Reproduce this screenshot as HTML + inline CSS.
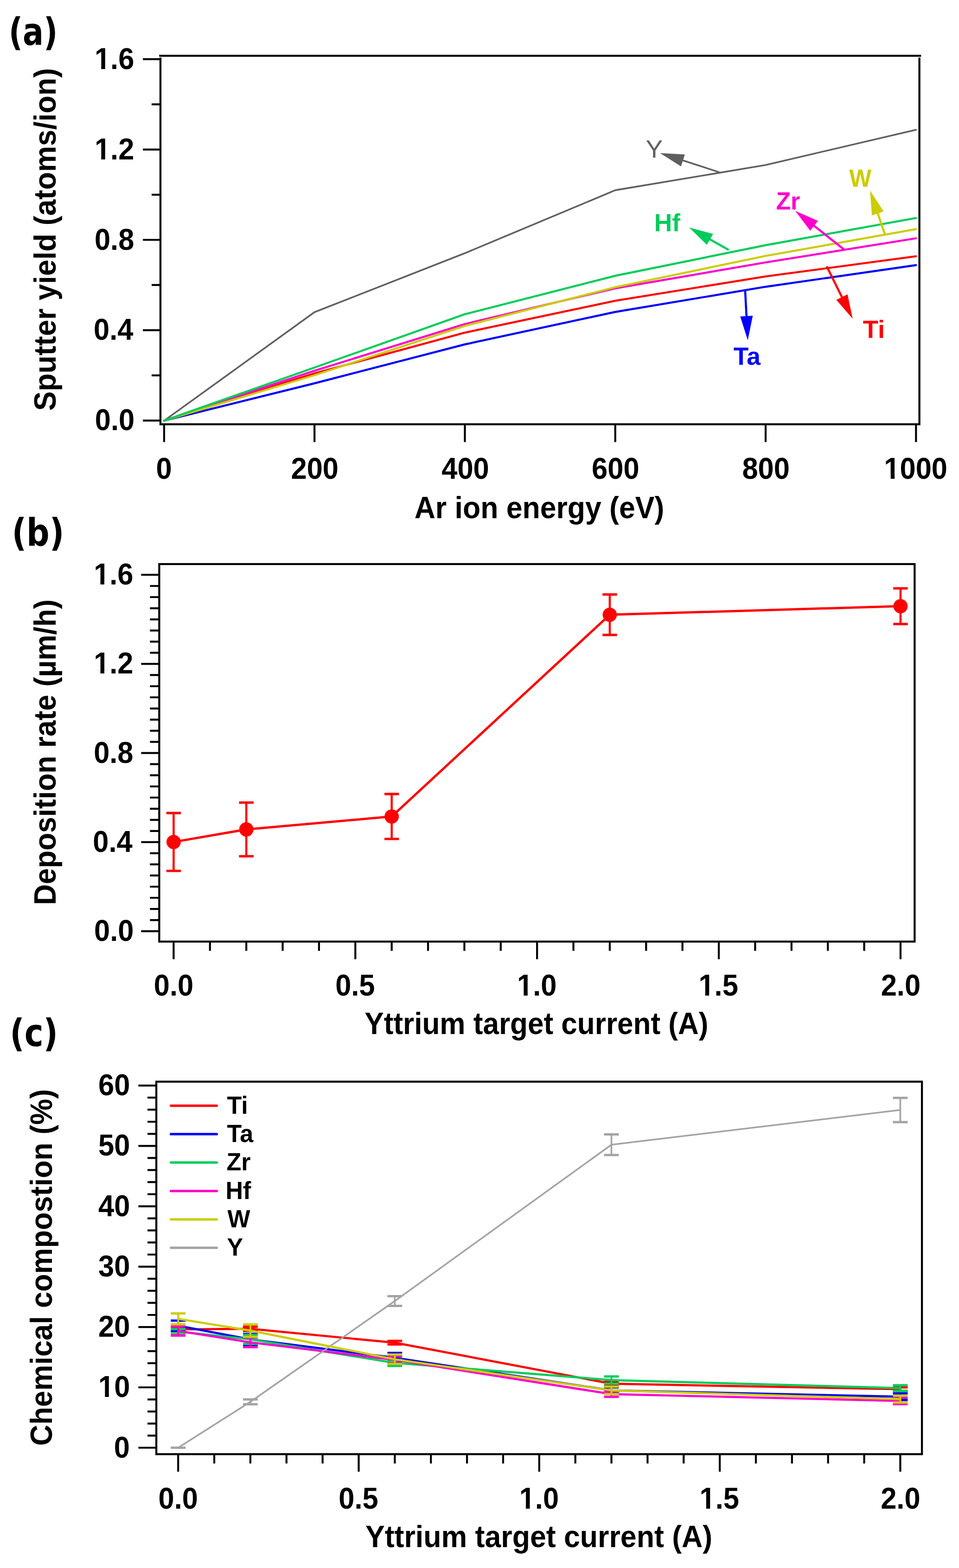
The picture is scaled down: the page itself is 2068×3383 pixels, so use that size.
<!DOCTYPE html>
<html><head><meta charset="utf-8"><title>Figure</title>
<style>html,body{margin:0;padding:0;background:#fff;}svg{display:block;}</style>
</head><body>
<svg width="2068" height="3383" viewBox="0 0 2068 3383">
<rect width="2068" height="3383" fill="#fff"/>
<path d="M343.25 120.3H1986.25M346 124.3V917.45M1982.6 124.3V917.45M343.85 915.3H1984.75" fill="none" stroke="#000" stroke-width="4.3"/>
<path d="M308.2 907.3H346M308.2 712.4H346M308.2 517.5H346M308.2 322.6H346M308.2 127.7H346M327 809.85H346M327 614.95H346M327 420.05H346M327 225.15H346" stroke="#000" stroke-width="4.2" fill="none"/>
<path d="M353.9 915.3V953.8M678.18 915.3V953.8M1002.46 915.3V953.8M1326.74 915.3V953.8M1651.02 915.3V953.8M1975.3 915.3V953.8" stroke="#000" stroke-width="4.2" fill="none"/>
<polyline points="353.9,907.6 678.18,673.5 1002.46,546.3 1326.74,410.4 1651.02,356 1975.3,280" fill="none" stroke="#5f5f5f" stroke-width="3.6" stroke-linejoin="round" stroke-linecap="round"/>
<polyline points="353.9,907.6 678.18,827 1002.46,743 1326.74,673 1651.02,618.7 1975.3,572" fill="none" stroke="#0000ff" stroke-width="4.4" stroke-linejoin="round" stroke-linecap="round"/>
<polyline points="353.9,907.6 678.18,805.7 1002.46,717.7 1326.74,648.9 1651.02,596.4 1975.3,552.9" fill="none" stroke="#ff0000" stroke-width="4.4" stroke-linejoin="round" stroke-linecap="round"/>
<polyline points="353.9,907.6 678.18,799.9 1002.46,699.1 1326.74,622 1651.02,566.1 1975.3,514.2" fill="none" stroke="#ff00cc" stroke-width="4.4" stroke-linejoin="round" stroke-linecap="round"/>
<polyline points="353.9,907.6 678.18,809.5 1002.46,703.1 1326.74,619.6 1651.02,552.2 1975.3,494.3" fill="none" stroke="#cccc00" stroke-width="4.4" stroke-linejoin="round" stroke-linecap="round"/>
<polyline points="353.9,907.6 678.18,793 1002.46,677.9 1326.74,595 1651.02,529 1975.3,470.4" fill="none" stroke="#00cc5a" stroke-width="4.4" stroke-linejoin="round" stroke-linecap="round"/>
<line x1="1551.3" y1="371.6" x2="1470.78" y2="345.58" stroke="#5f5f5f" stroke-width="3.6"/>
<polygon points="1423.2,330.2 1476.83,333.35 1468.53,359.04" fill="#5f5f5f"/>
<line x1="1571.4" y1="539.2" x2="1529.32" y2="515.41" stroke="#00cc5a" stroke-width="4.6"/>
<polygon points="1485.8,490.8 1537.71,504.64 1524.42,528.15" fill="#00cc5a"/>
<line x1="1819.6" y1="537.9" x2="1754" y2="485.94" stroke="#ff00cc" stroke-width="4.6"/>
<polygon points="1714.8,454.9 1763.95,476.6 1747.18,497.77" fill="#ff00cc"/>
<line x1="1908.1" y1="505.2" x2="1892.28" y2="458.64" stroke="#cccc00" stroke-width="4.6"/>
<polygon points="1876.2,411.3 1905.71,456.19 1880.14,464.88" fill="#cccc00"/>
<line x1="1782.8" y1="574.7" x2="1816.45" y2="642.78" stroke="#ff0000" stroke-width="4.6"/>
<polygon points="1838.6,687.6 1803.46,646.96 1827.66,635" fill="#ff0000"/>
<line x1="1606.9" y1="627.9" x2="1609.86" y2="683.97" stroke="#0000ff" stroke-width="4.6"/>
<polygon points="1612.5,733.9 1596.28,682.68 1623.24,681.26" fill="#0000ff"/>
<rect x="343.4" y="1217" width="1628.9" height="814.5" fill="none" stroke="#000" stroke-width="4.3"/>
<path d="M304.4 2009.1H343.4M304.4 1816.88H343.4M304.4 1624.65H343.4M304.4 1432.43H343.4M304.4 1240.2H343.4M323.4 1985.07H343.4M323.4 1961.04H343.4M323.4 1937.02H343.4M323.4 1912.99H343.4M323.4 1888.96H343.4M323.4 1864.93H343.4M323.4 1840.9H343.4M323.4 1792.85H343.4M323.4 1768.82H343.4M323.4 1744.79H343.4M323.4 1720.76H343.4M323.4 1696.74H343.4M323.4 1672.71H343.4M323.4 1648.68H343.4M323.4 1600.62H343.4M323.4 1576.6H343.4M323.4 1552.57H343.4M323.4 1528.54H343.4M323.4 1504.51H343.4M323.4 1480.48H343.4M323.4 1456.46H343.4M323.4 1408.4H343.4M323.4 1384.37H343.4M323.4 1360.34H343.4M323.4 1336.32H343.4M323.4 1312.29H343.4M323.4 1288.26H343.4M323.4 1264.23H343.4" stroke="#000" stroke-width="4.2" fill="none"/>
<path d="M374.4 2031.5V2069.5M766.27 2031.5V2069.5M1158.15 2031.5V2069.5M1550.03 2031.5V2069.5M1941.9 2031.5V2069.5M452.77 2031.5V2051.5M531.15 2031.5V2051.5M609.52 2031.5V2051.5M687.9 2031.5V2051.5M844.65 2031.5V2051.5M923.02 2031.5V2051.5M1001.4 2031.5V2051.5M1079.78 2031.5V2051.5M1236.53 2031.5V2051.5M1314.9 2031.5V2051.5M1393.28 2031.5V2051.5M1471.65 2031.5V2051.5M1628.4 2031.5V2051.5M1706.78 2031.5V2051.5M1785.15 2031.5V2051.5M1863.53 2031.5V2051.5" stroke="#000" stroke-width="4.2" fill="none"/>
<polyline points="374.4,1816.6 531.15,1789.5 844.65,1761.6 1314.9,1326.3 1941.9,1307.8" fill="none" stroke="#ff0000" stroke-width="5.0" stroke-linejoin="round" stroke-linecap="round"/>
<path d="M374.4 1754.2V1879" stroke="#ff0000" stroke-width="4.6"/>
<path d="M358.7 1754.2H390.1M358.7 1879H390.1" stroke="#ff0000" stroke-width="5.2"/>
<circle cx="374.4" cy="1816.6" r="15.4" fill="#ff0000"/>
<path d="M531.15 1731.7V1847.3" stroke="#ff0000" stroke-width="4.6"/>
<path d="M515.45 1731.7H546.85M515.45 1847.3H546.85" stroke="#ff0000" stroke-width="5.2"/>
<circle cx="531.15" cy="1789.5" r="15.4" fill="#ff0000"/>
<path d="M844.65 1713.2V1810" stroke="#ff0000" stroke-width="4.6"/>
<path d="M828.95 1713.2H860.35M828.95 1810H860.35" stroke="#ff0000" stroke-width="5.2"/>
<circle cx="844.65" cy="1761.6" r="15.4" fill="#ff0000"/>
<path d="M1314.9 1282.7V1369.9" stroke="#ff0000" stroke-width="4.6"/>
<path d="M1299.2 1282.7H1330.6M1299.2 1369.9H1330.6" stroke="#ff0000" stroke-width="5.2"/>
<circle cx="1314.9" cy="1326.3" r="15.4" fill="#ff0000"/>
<path d="M1941.9 1269.3V1346.3" stroke="#ff0000" stroke-width="4.6"/>
<path d="M1926.2 1269.3H1957.6M1926.2 1346.3H1957.6" stroke="#ff0000" stroke-width="5.2"/>
<circle cx="1941.9" cy="1307.8" r="15.4" fill="#ff0000"/>
<rect x="337.1" y="2333.7" width="1651" height="803.7" fill="none" stroke="#000" stroke-width="4.3"/>
<path d="M298.4 3123.5H337.1M298.4 2993.27H337.1M298.4 2863.03H337.1M298.4 2732.8H337.1M298.4 2602.57H337.1M298.4 2472.34H337.1M298.4 2342.1H337.1M318.1 3097.45H337.1M318.1 3071.41H337.1M318.1 3045.36H337.1M318.1 3019.31H337.1M318.1 2967.22H337.1M318.1 2941.17H337.1M318.1 2915.13H337.1M318.1 2889.08H337.1M318.1 2836.99H337.1M318.1 2810.94H337.1M318.1 2784.89H337.1M318.1 2758.85H337.1M318.1 2706.75H337.1M318.1 2680.71H337.1M318.1 2654.66H337.1M318.1 2628.61H337.1M318.1 2576.52H337.1M318.1 2550.47H337.1M318.1 2524.43H337.1M318.1 2498.38H337.1M318.1 2446.29H337.1M318.1 2420.24H337.1M318.1 2394.2H337.1M318.1 2368.15H337.1" stroke="#000" stroke-width="4.2" fill="none"/>
<path d="M384.2 3137.4V3175.2M773.5 3137.4V3175.2M1162.8 3137.4V3175.2M1552.1 3137.4V3175.2M1941.4 3137.4V3175.2M462.06 3137.4V3157.4M539.92 3137.4V3157.4M617.78 3137.4V3157.4M695.64 3137.4V3157.4M851.36 3137.4V3157.4M929.22 3137.4V3157.4M1007.08 3137.4V3157.4M1084.94 3137.4V3157.4M1240.66 3137.4V3157.4M1318.52 3137.4V3157.4M1396.38 3137.4V3157.4M1474.24 3137.4V3157.4M1629.96 3137.4V3157.4M1707.82 3137.4V3157.4M1785.68 3137.4V3157.4M1863.54 3137.4V3157.4" stroke="#000" stroke-width="4.2" fill="none"/>
<polyline points="384.2,2868.24 539.92,2866.94 851.36,2896.89 1318.52,2985.45 1941.4,2997.17" fill="none" stroke="#ff0000" stroke-width="4.7" stroke-linejoin="round" stroke-linecap="round"/>
<path d="M384.2 2864.33V2872.15" stroke="#ff0000" stroke-width="4.0"/>
<path d="M368.3 2864.33H400.1M368.3 2872.15H400.1" stroke="#ff0000" stroke-width="5.0"/>
<path d="M539.92 2862.38V2871.5" stroke="#ff0000" stroke-width="4.0"/>
<path d="M524.02 2862.38H555.82M524.02 2871.5H555.82" stroke="#ff0000" stroke-width="5.0"/>
<path d="M851.36 2892.98V2900.8" stroke="#ff0000" stroke-width="4.0"/>
<path d="M835.46 2892.98H867.26M835.46 2900.8H867.26" stroke="#ff0000" stroke-width="5.0"/>
<path d="M1318.52 2981.54V2989.36" stroke="#ff0000" stroke-width="4.0"/>
<path d="M1302.62 2981.54H1334.42M1302.62 2989.36H1334.42" stroke="#ff0000" stroke-width="5.0"/>
<path d="M1941.4 2993.26V3001.08" stroke="#ff0000" stroke-width="4.0"/>
<path d="M1925.5 2993.26H1957.3M1925.5 3001.08H1957.3" stroke="#ff0000" stroke-width="5.0"/>
<polyline points="384.2,2860.43 539.92,2889.73 851.36,2929.45 1318.52,2999.78 1941.4,3013.45" fill="none" stroke="#0000ff" stroke-width="4.7" stroke-linejoin="round" stroke-linecap="round"/>
<path d="M384.2 2849.35V2871.51" stroke="#0000ff" stroke-width="4.0"/>
<path d="M368.3 2849.35H400.1M368.3 2871.51H400.1" stroke="#0000ff" stroke-width="5.0"/>
<path d="M539.92 2878V2901.46" stroke="#0000ff" stroke-width="4.0"/>
<path d="M524.02 2878H555.82M524.02 2901.46H555.82" stroke="#0000ff" stroke-width="5.0"/>
<path d="M851.36 2919.03V2939.88" stroke="#0000ff" stroke-width="4.0"/>
<path d="M835.46 2919.03H867.26M835.46 2939.88H867.26" stroke="#0000ff" stroke-width="5.0"/>
<path d="M1318.52 2993.26V3006.3" stroke="#0000ff" stroke-width="4.0"/>
<path d="M1302.62 2993.26H1334.42M1302.62 3006.3H1334.42" stroke="#0000ff" stroke-width="5.0"/>
<path d="M1941.4 3006.28V3020.62" stroke="#0000ff" stroke-width="4.0"/>
<path d="M1925.5 3006.28H1957.3M1925.5 3020.62H1957.3" stroke="#0000ff" stroke-width="5.0"/>
<polyline points="384.2,2872.8 539.92,2889.73 851.36,2940.52 1318.52,2977.64 1941.4,2994.83" fill="none" stroke="#00cc5a" stroke-width="4.7" stroke-linejoin="round" stroke-linecap="round"/>
<path d="M384.2 2867.59V2878.01" stroke="#00cc5a" stroke-width="4.0"/>
<path d="M368.3 2867.59H400.1M368.3 2878.01H400.1" stroke="#00cc5a" stroke-width="5.0"/>
<path d="M539.92 2880.09V2899.38" stroke="#00cc5a" stroke-width="4.0"/>
<path d="M524.02 2880.09H555.82M524.02 2899.38H555.82" stroke="#00cc5a" stroke-width="5.0"/>
<path d="M851.36 2934.01V2947.04" stroke="#00cc5a" stroke-width="4.0"/>
<path d="M835.46 2934.01H867.26M835.46 2947.04H867.26" stroke="#00cc5a" stroke-width="5.0"/>
<path d="M1318.52 2969.69V2985.59" stroke="#00cc5a" stroke-width="4.0"/>
<path d="M1302.62 2969.69H1334.42M1302.62 2985.59H1334.42" stroke="#00cc5a" stroke-width="5.0"/>
<path d="M1941.4 2988.7V3000.96" stroke="#00cc5a" stroke-width="4.0"/>
<path d="M1925.5 2988.7H1957.3M1925.5 3000.96H1957.3" stroke="#00cc5a" stroke-width="5.0"/>
<polyline points="384.2,2871.5 539.92,2896.24 851.36,2934.01 1318.52,3007.85 1941.4,3022.57" fill="none" stroke="#ff00cc" stroke-width="4.7" stroke-linejoin="round" stroke-linecap="round"/>
<path d="M384.2 2861.59V2881.4" stroke="#ff00cc" stroke-width="4.0"/>
<path d="M368.3 2861.59H400.1M368.3 2881.4H400.1" stroke="#ff00cc" stroke-width="5.0"/>
<path d="M539.92 2885.95V2906.54" stroke="#ff00cc" stroke-width="4.0"/>
<path d="M524.02 2885.95H555.82M524.02 2906.54H555.82" stroke="#ff00cc" stroke-width="5.0"/>
<path d="M851.36 2926.19V2941.83" stroke="#ff00cc" stroke-width="4.0"/>
<path d="M835.46 2926.19H867.26M835.46 2941.83H867.26" stroke="#ff00cc" stroke-width="5.0"/>
<path d="M1318.52 3001.99V3013.72" stroke="#ff00cc" stroke-width="4.0"/>
<path d="M1302.62 3001.99H1334.42M1302.62 3013.72H1334.42" stroke="#ff00cc" stroke-width="5.0"/>
<path d="M1941.4 3015.53V3029.61" stroke="#ff00cc" stroke-width="4.0"/>
<path d="M1925.5 3015.53H1957.3M1925.5 3029.61H1957.3" stroke="#ff00cc" stroke-width="5.0"/>
<polyline points="384.2,3123.5 539.92,3024.52 851.36,2807.03 1318.52,2469.73 1941.4,2394.85" fill="none" stroke="#a3a3a3" stroke-width="3.5" stroke-linejoin="round" stroke-linecap="round"/>
<path d="M384.2 3123.5V3123.5" stroke="#a3a3a3" stroke-width="3.6"/>
<path d="M368.3 3123.5H400.1M368.3 3123.5H400.1" stroke="#a3a3a3" stroke-width="5.0"/>
<path d="M539.92 3019.31V3029.74" stroke="#a3a3a3" stroke-width="3.6"/>
<path d="M524.02 3019.31H555.82M524.02 3029.74H555.82" stroke="#a3a3a3" stroke-width="5.0"/>
<path d="M851.36 2796.61V2817.46" stroke="#a3a3a3" stroke-width="3.6"/>
<path d="M835.46 2796.61H867.26M835.46 2817.46H867.26" stroke="#a3a3a3" stroke-width="5.0"/>
<path d="M1318.52 2447.57V2491.89" stroke="#a3a3a3" stroke-width="3.6"/>
<path d="M1302.62 2447.57H1334.42M1302.62 2491.89H1334.42" stroke="#a3a3a3" stroke-width="5.0"/>
<path d="M1941.4 2368.78V2420.91" stroke="#a3a3a3" stroke-width="3.6"/>
<path d="M1925.5 2368.78H1957.3M1925.5 2420.91H1957.3" stroke="#a3a3a3" stroke-width="5.0"/>
<polyline points="384.2,2845.45 539.92,2870.85 851.36,2932.71 1318.52,2999.78 1941.4,3018.66" fill="none" stroke="#cccc00" stroke-width="4.7" stroke-linejoin="round" stroke-linecap="round"/>
<path d="M384.2 2833.72V2857.18" stroke="#cccc00" stroke-width="4.0"/>
<path d="M368.3 2833.72H400.1M368.3 2857.18H400.1" stroke="#cccc00" stroke-width="5.0"/>
<path d="M539.92 2857.42V2884.27" stroke="#cccc00" stroke-width="4.0"/>
<path d="M524.02 2857.42H555.82M524.02 2884.27H555.82" stroke="#cccc00" stroke-width="5.0"/>
<path d="M851.36 2922.54V2942.87" stroke="#cccc00" stroke-width="4.0"/>
<path d="M835.46 2922.54H867.26M835.46 2942.87H867.26" stroke="#cccc00" stroke-width="5.0"/>
<path d="M1318.52 2991.83V3007.73" stroke="#cccc00" stroke-width="4.0"/>
<path d="M1302.62 2991.83H1334.42M1302.62 3007.73H1334.42" stroke="#cccc00" stroke-width="5.0"/>
<path d="M1941.4 3011.36V3025.96" stroke="#cccc00" stroke-width="4.0"/>
<path d="M1925.5 3011.36H1957.3M1925.5 3025.96H1957.3" stroke="#cccc00" stroke-width="5.0"/>
<line x1="368.5" y1="2385.6" x2="467.5" y2="2385.6" stroke="#ff0000" stroke-width="5.2" stroke-linecap="round"/>
<line x1="368.5" y1="2446.9" x2="467.5" y2="2446.9" stroke="#0000ff" stroke-width="5.2" stroke-linecap="round"/>
<line x1="368.5" y1="2508.1" x2="467.5" y2="2508.1" stroke="#00cc5a" stroke-width="5.2" stroke-linecap="round"/>
<line x1="368.5" y1="2569.7" x2="467.5" y2="2569.7" stroke="#ff00cc" stroke-width="5.2" stroke-linecap="round"/>
<line x1="368.5" y1="2630.8" x2="467.5" y2="2630.8" stroke="#cccc00" stroke-width="5.2" stroke-linecap="round"/>
<line x1="368.5" y1="2692.1" x2="467.5" y2="2692.1" stroke="#a3a3a3" stroke-width="5.2" stroke-linecap="round"/>
<text x="1392.57" y="340.4" font-family="Liberation Sans, sans-serif" font-weight="normal" font-size="54" fill="#5f5f5f" textLength="36.59" lengthAdjust="spacingAndGlyphs">Y</text>
<text x="1410.74" y="498.7" font-family="Liberation Sans, sans-serif" font-weight="bold" font-size="54" fill="#00cc5a" textLength="56.45" lengthAdjust="spacingAndGlyphs">Hf</text>
<text x="1673.38" y="452.1" font-family="Liberation Sans, sans-serif" font-weight="bold" font-size="54" fill="#ff00cc" textLength="51.88" lengthAdjust="spacingAndGlyphs">Zr</text>
<text x="1831.3" y="402.8" font-family="Liberation Sans, sans-serif" font-weight="bold" font-size="54" fill="#cccc00" textLength="47.87" lengthAdjust="spacingAndGlyphs">W</text>
<text x="1860.8" y="728.5" font-family="Liberation Sans, sans-serif" font-weight="bold" font-size="54" fill="#ff0000" textLength="47.24" lengthAdjust="spacingAndGlyphs">Ti</text>
<text x="1581.81" y="787.3" font-family="Liberation Sans, sans-serif" font-weight="bold" font-size="54" fill="#0000ff" textLength="58.2" lengthAdjust="spacingAndGlyphs">Ta</text>
<text x="204.87" y="928.3" font-family="Liberation Sans, sans-serif" font-weight="bold" font-size="65.5" fill="#000" textLength="85.4" lengthAdjust="spacingAndGlyphs">0.0</text>
<text x="202.06" y="733.4" font-family="Liberation Sans, sans-serif" font-weight="bold" font-size="65.5" fill="#000" textLength="85.4" lengthAdjust="spacingAndGlyphs">0.4</text>
<text x="203.94" y="538.5" font-family="Liberation Sans, sans-serif" font-weight="bold" font-size="65.5" fill="#000" textLength="85.4" lengthAdjust="spacingAndGlyphs">0.8</text>
<text x="203.94" y="343.6" font-family="Liberation Sans, sans-serif" font-weight="bold" font-size="65.5" fill="#000" textLength="85.4" lengthAdjust="spacingAndGlyphs">1.2</text>
<text x="203.94" y="148.7" font-family="Liberation Sans, sans-serif" font-weight="bold" font-size="65.5" fill="#000" textLength="85.4" lengthAdjust="spacingAndGlyphs">1.6</text>
<text x="336.55" y="1032.5" font-family="Liberation Sans, sans-serif" font-weight="bold" font-size="65.5" fill="#000" textLength="34.17" lengthAdjust="spacingAndGlyphs">0</text>
<text x="627.54" y="1032.5" font-family="Liberation Sans, sans-serif" font-weight="bold" font-size="65.5" fill="#000" textLength="102.5" lengthAdjust="spacingAndGlyphs">200</text>
<text x="952.29" y="1032.5" font-family="Liberation Sans, sans-serif" font-weight="bold" font-size="65.5" fill="#000" textLength="102.5" lengthAdjust="spacingAndGlyphs">400</text>
<text x="1276.1" y="1032.5" font-family="Liberation Sans, sans-serif" font-weight="bold" font-size="65.5" fill="#000" textLength="102.5" lengthAdjust="spacingAndGlyphs">600</text>
<text x="1600.38" y="1032.5" font-family="Liberation Sans, sans-serif" font-weight="bold" font-size="65.5" fill="#000" textLength="102.5" lengthAdjust="spacingAndGlyphs">800</text>
<text x="1906.37" y="1032.5" font-family="Liberation Sans, sans-serif" font-weight="bold" font-size="65.5" fill="#000" textLength="136.65" lengthAdjust="spacingAndGlyphs">1000</text>
<text x="893.73" y="1118.2" font-family="Liberation Sans, sans-serif" font-weight="bold" font-size="67" fill="#000" textLength="538.52" lengthAdjust="spacingAndGlyphs">Ar ion energy (eV)</text>
<text transform="translate(120.2 886.28) rotate(-90)" font-family="Liberation Sans, sans-serif" font-weight="bold" font-size="67" fill="#000" textLength="739.64" lengthAdjust="spacingAndGlyphs">Sputter yield (atoms/ion)</text>
<text x="18.72" y="96.5" font-family="DejaVu Sans, sans-serif" font-weight="bold" font-size="82" fill="#000" textLength="105.7" lengthAdjust="spacingAndGlyphs">(a)</text>
<text x="203.07" y="2030.1" font-family="Liberation Sans, sans-serif" font-weight="bold" font-size="65.5" fill="#000" textLength="85.4" lengthAdjust="spacingAndGlyphs">0.0</text>
<text x="200.26" y="1837.88" font-family="Liberation Sans, sans-serif" font-weight="bold" font-size="65.5" fill="#000" textLength="85.4" lengthAdjust="spacingAndGlyphs">0.4</text>
<text x="202.14" y="1645.65" font-family="Liberation Sans, sans-serif" font-weight="bold" font-size="65.5" fill="#000" textLength="85.4" lengthAdjust="spacingAndGlyphs">0.8</text>
<text x="202.14" y="1453.43" font-family="Liberation Sans, sans-serif" font-weight="bold" font-size="65.5" fill="#000" textLength="85.4" lengthAdjust="spacingAndGlyphs">1.2</text>
<text x="202.14" y="1261.2" font-family="Liberation Sans, sans-serif" font-weight="bold" font-size="65.5" fill="#000" textLength="85.4" lengthAdjust="spacingAndGlyphs">1.6</text>
<text x="331.73" y="2148" font-family="Liberation Sans, sans-serif" font-weight="bold" font-size="65.5" fill="#000" textLength="85.4" lengthAdjust="spacingAndGlyphs">0.0</text>
<text x="723.14" y="2148" font-family="Liberation Sans, sans-serif" font-weight="bold" font-size="65.5" fill="#000" textLength="85.4" lengthAdjust="spacingAndGlyphs">0.5</text>
<text x="1115.01" y="2148" font-family="Liberation Sans, sans-serif" font-weight="bold" font-size="65.5" fill="#000" textLength="85.4" lengthAdjust="spacingAndGlyphs">1.0</text>
<text x="1506.42" y="2148" font-family="Liberation Sans, sans-serif" font-weight="bold" font-size="65.5" fill="#000" textLength="85.4" lengthAdjust="spacingAndGlyphs">1.5</text>
<text x="1899.7" y="2148" font-family="Liberation Sans, sans-serif" font-weight="bold" font-size="65.5" fill="#000" textLength="85.4" lengthAdjust="spacingAndGlyphs">2.0</text>
<text x="786.37" y="2230.8" font-family="Liberation Sans, sans-serif" font-weight="bold" font-size="67" fill="#000" textLength="741.12" lengthAdjust="spacingAndGlyphs">Yttrium target current (A)</text>
<text transform="translate(120.4 1952.82) rotate(-90)" font-family="Liberation Sans, sans-serif" font-weight="bold" font-size="67" fill="#000" textLength="659.61" lengthAdjust="spacingAndGlyphs">Deposition rate (µm/h)</text>
<text x="25.38" y="1176.6" font-family="DejaVu Sans, sans-serif" font-weight="bold" font-size="82" fill="#000" textLength="113.05" lengthAdjust="spacingAndGlyphs">(b)</text>
<text x="489.44" y="2402.9" font-family="Liberation Sans, sans-serif" font-weight="bold" font-size="54" fill="#000" textLength="45.27" lengthAdjust="spacingAndGlyphs">Ti</text>
<text x="489.44" y="2464.2" font-family="Liberation Sans, sans-serif" font-weight="bold" font-size="54" fill="#000" textLength="56.83" lengthAdjust="spacingAndGlyphs">Ta</text>
<text x="488.47" y="2525.4" font-family="Liberation Sans, sans-serif" font-weight="bold" font-size="54" fill="#000" textLength="52" lengthAdjust="spacingAndGlyphs">Zr</text>
<text x="486.55" y="2587" font-family="Liberation Sans, sans-serif" font-weight="bold" font-size="54" fill="#000" textLength="54.87" lengthAdjust="spacingAndGlyphs">Hf</text>
<text x="490.4" y="2648.1" font-family="Liberation Sans, sans-serif" font-weight="bold" font-size="54" fill="#000" textLength="49.08" lengthAdjust="spacingAndGlyphs">W</text>
<text x="489.44" y="2709.4" font-family="Liberation Sans, sans-serif" font-weight="bold" font-size="54" fill="#000" textLength="34.7" lengthAdjust="spacingAndGlyphs">Y</text>
<text x="245.82" y="3144.5" font-family="Liberation Sans, sans-serif" font-weight="bold" font-size="65.5" fill="#000" textLength="34.17" lengthAdjust="spacingAndGlyphs">0</text>
<text x="212.05" y="3014.27" font-family="Liberation Sans, sans-serif" font-weight="bold" font-size="65.5" fill="#000" textLength="68.33" lengthAdjust="spacingAndGlyphs">10</text>
<text x="212.05" y="2884.03" font-family="Liberation Sans, sans-serif" font-weight="bold" font-size="65.5" fill="#000" textLength="68.33" lengthAdjust="spacingAndGlyphs">20</text>
<text x="212.05" y="2753.8" font-family="Liberation Sans, sans-serif" font-weight="bold" font-size="65.5" fill="#000" textLength="68.33" lengthAdjust="spacingAndGlyphs">30</text>
<text x="212.05" y="2623.57" font-family="Liberation Sans, sans-serif" font-weight="bold" font-size="65.5" fill="#000" textLength="68.33" lengthAdjust="spacingAndGlyphs">40</text>
<text x="212.05" y="2493.34" font-family="Liberation Sans, sans-serif" font-weight="bold" font-size="65.5" fill="#000" textLength="68.33" lengthAdjust="spacingAndGlyphs">50</text>
<text x="212.05" y="2363.1" font-family="Liberation Sans, sans-serif" font-weight="bold" font-size="65.5" fill="#000" textLength="68.33" lengthAdjust="spacingAndGlyphs">60</text>
<text x="341.53" y="3255.2" font-family="Liberation Sans, sans-serif" font-weight="bold" font-size="65.5" fill="#000" textLength="85.4" lengthAdjust="spacingAndGlyphs">0.0</text>
<text x="730.36" y="3255.2" font-family="Liberation Sans, sans-serif" font-weight="bold" font-size="65.5" fill="#000" textLength="85.4" lengthAdjust="spacingAndGlyphs">0.5</text>
<text x="1119.66" y="3255.2" font-family="Liberation Sans, sans-serif" font-weight="bold" font-size="65.5" fill="#000" textLength="85.4" lengthAdjust="spacingAndGlyphs">1.0</text>
<text x="1508.49" y="3255.2" font-family="Liberation Sans, sans-serif" font-weight="bold" font-size="65.5" fill="#000" textLength="85.4" lengthAdjust="spacingAndGlyphs">1.5</text>
<text x="1899.2" y="3255.2" font-family="Liberation Sans, sans-serif" font-weight="bold" font-size="65.5" fill="#000" textLength="85.4" lengthAdjust="spacingAndGlyphs">2.0</text>
<text x="787.97" y="3337.8" font-family="Liberation Sans, sans-serif" font-weight="bold" font-size="67" fill="#000" textLength="748.16" lengthAdjust="spacingAndGlyphs">Yttrium target current (A)</text>
<text transform="translate(112.4 3119.32) rotate(-90)" font-family="Liberation Sans, sans-serif" font-weight="bold" font-size="67" fill="#000" textLength="769.52" lengthAdjust="spacingAndGlyphs">Chemical compostion (%)</text>
<text x="21.22" y="2257.4" font-family="DejaVu Sans, sans-serif" font-weight="bold" font-size="82" fill="#000" textLength="103.84" lengthAdjust="spacingAndGlyphs">(c)</text>
<rect x="205.14" y="336.31" width="13.11" height="10.29" fill="#fff"/>
<rect x="226.73" y="336.31" width="11.4" height="10.29" fill="#fff"/>
<rect x="205.14" y="141.41" width="13.11" height="10.29" fill="#fff"/>
<rect x="226.73" y="141.41" width="11.4" height="10.29" fill="#fff"/>
<rect x="1907.57" y="1025.21" width="13.11" height="10.29" fill="#fff"/>
<rect x="1929.17" y="1025.21" width="11.4" height="10.29" fill="#fff"/>
<rect x="203.34" y="1446.14" width="13.11" height="10.29" fill="#fff"/>
<rect x="224.93" y="1446.14" width="11.4" height="10.29" fill="#fff"/>
<rect x="203.34" y="1253.91" width="13.11" height="10.29" fill="#fff"/>
<rect x="224.93" y="1253.91" width="11.4" height="10.29" fill="#fff"/>
<rect x="1116.21" y="2140.71" width="13.11" height="10.29" fill="#fff"/>
<rect x="1137.81" y="2140.71" width="11.4" height="10.29" fill="#fff"/>
<rect x="1507.62" y="2140.71" width="13.11" height="10.29" fill="#fff"/>
<rect x="1529.21" y="2140.71" width="11.4" height="10.29" fill="#fff"/>
<rect x="213.25" y="3006.98" width="13.11" height="10.29" fill="#fff"/>
<rect x="234.85" y="3006.98" width="11.4" height="10.29" fill="#fff"/>
<rect x="1120.86" y="3247.91" width="13.11" height="10.29" fill="#fff"/>
<rect x="1142.46" y="3247.91" width="11.4" height="10.29" fill="#fff"/>
<rect x="1509.69" y="3247.91" width="13.11" height="10.29" fill="#fff"/>
<rect x="1531.29" y="3247.91" width="11.4" height="10.29" fill="#fff"/>
</svg>
</body></html>
